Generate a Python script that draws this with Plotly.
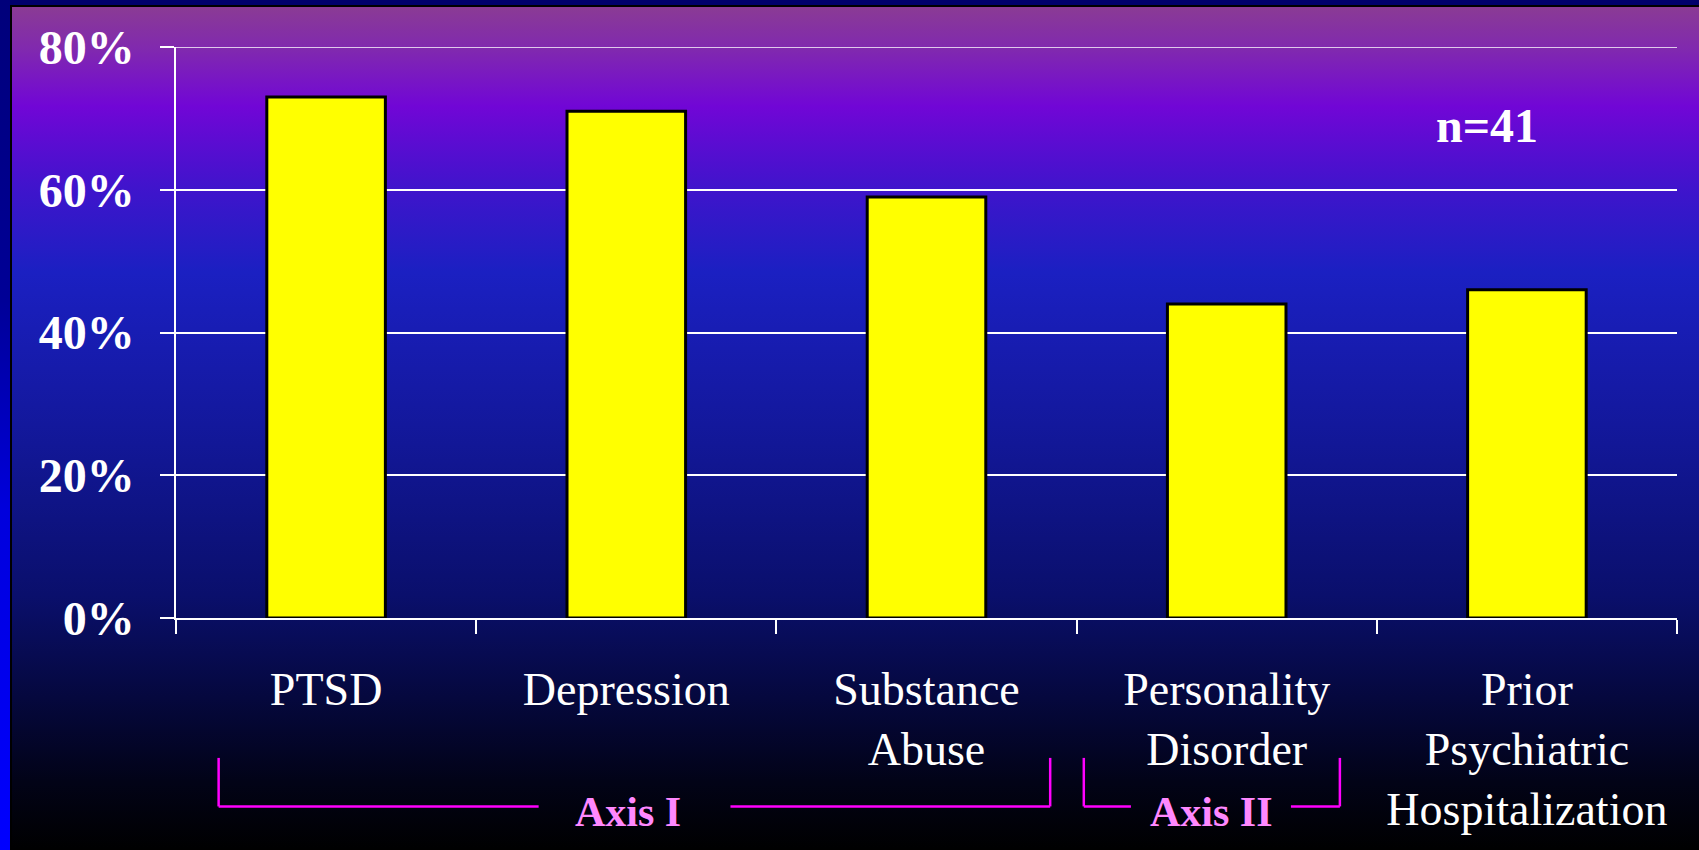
import base64
import plotly.graph_objects as go

# ---- data ----
categories = ["PTSD", "Depression", "Substance<br>Abuse",
              "Personality<br>Disorder", "Prior<br>Psychiatric<br>Hospitalization"]
percent_values = [73, 71, 59, 44, 46]
y_tick_values = [0, 20, 40, 60, 80]
y_tick_labels = ["0%", "20%", "40%", "60%", "80%"]
group_names = ["Axis I", "Axis II"]
sample_label = "n=41"

# ---- layout constants ----
W, H = 1699, 850
L, R, T, B = 176, 22, 47, 232
PW, PH = W - L - R, H - T - B
SERIF = "Times New Roman, Liberation Serif, Tinos, serif"

# bracket geometry (category-index units / paper units)
brackets = [
    dict(xl=-0.358, gl=0.708, gr=1.347, xr=2.412, xt=1.007),
    dict(xl=2.524, gl=2.681, gr=3.214, xr=3.377, xt=2.951),
]
br_top, br_bot, br_text_y = -0.245, -0.330, -0.339

# ---- background (gradient slide) as an svg image ----
svg = f'''<svg xmlns="http://www.w3.org/2000/svg" width="{W}" height="{H}" viewBox="0 0 {W} {H}" preserveAspectRatio="none">
<defs>
<linearGradient id="g" x1="0" y1="0" x2="0" y2="1">
<stop offset="0" stop-color="#8C3E90"/>
<stop offset="0.06" stop-color="#8028B0"/>
<stop offset="0.125" stop-color="#7106D6"/>
<stop offset="0.22" stop-color="#4014CC"/>
<stop offset="0.32" stop-color="#1B20C2"/>
<stop offset="0.5" stop-color="#13189C"/>
<stop offset="0.7" stop-color="#0A0F6C"/>
<stop offset="0.82" stop-color="#05083E"/>
<stop offset="0.92" stop-color="#020317"/>
<stop offset="1" stop-color="#000000"/>
</linearGradient>
<linearGradient id="s" x1="0" y1="0" x2="0" y2="1">
<stop offset="0" stop-color="#00007A"/>
<stop offset="0.35" stop-color="#000096"/>
<stop offset="0.6" stop-color="#0000DC"/>
<stop offset="1" stop-color="#0000FF"/>
</linearGradient>
</defs>
<rect x="0" y="0" width="{W}" height="{H}" fill="url(#g)"/>
<rect x="0" y="0" width="{W}" height="5" fill="#00006C"/>
<rect x="0" y="5" width="{W}" height="2" fill="#000000"/>
<rect x="0" y="0" width="10" height="{H}" fill="url(#s)"/>
<rect x="10" y="5" width="2" height="{H}" fill="#000000"/>
</svg>'''
bg_src = "data:image/svg+xml;base64," + base64.b64encode(svg.encode()).decode()

fig = go.Figure()
fig.add_trace(go.Bar(
    x=categories, y=percent_values, width=0.395,
    marker=dict(color="#FFFF00", line=dict(color="#000000", width=3)),
    hoverinfo="skip",
))

shapes = [
    # top gridline (plotly drops the gridline lying on the plot edge)
    dict(type="line", xref="paper", yref="y", x0=0, x1=1,
         y0=y_tick_values[-1], y1=y_tick_values[-1], layer="below",
         line=dict(color="#FFFFFF", width=1.5)),
]
for b in brackets:
    seg = dict(type="line", xref="x", yref="paper",
               line=dict(color="#FF00FF", width=2.5))
    shapes.append(dict(seg, x0=b["xl"], x1=b["xl"], y0=br_top, y1=br_bot))
    shapes.append(dict(seg, x0=b["xl"], x1=b["gl"], y0=br_bot, y1=br_bot))
    shapes.append(dict(seg, x0=b["gr"], x1=b["xr"], y0=br_bot, y1=br_bot))
    shapes.append(dict(seg, x0=b["xr"], x1=b["xr"], y0=br_top, y1=br_bot))

annotations = [
    dict(text=name, xref="x", yref="paper", x=b["xt"], y=br_text_y,
         showarrow=False, xanchor="center", yanchor="middle",
         font=dict(family=SERIF, size=42, color="#FF88FF", weight="bold"))
    for name, b in zip(group_names, brackets)
]
annotations.append(dict(
    text=sample_label, xref="paper", yref="paper", x=0.8736, y=0.863,
    showarrow=False, xanchor="center", yanchor="middle",
    font=dict(family=SERIF, size=48, color="#FFFFFF", weight="bold")))

fig.update_layout(
    width=W, height=H,
    margin=dict(l=L, r=R, t=T, b=B, pad=0),
    paper_bgcolor="rgba(0,0,0,0)", plot_bgcolor="rgba(0,0,0,0)",
    showlegend=False,
    images=[dict(source=bg_src, xref="paper", yref="paper",
                 x=-L / PW, y=1 + T / PH, sizex=W / PW, sizey=H / PH,
                 xanchor="left", yanchor="top", sizing="stretch", layer="below")],
    shapes=shapes,
    annotations=annotations,
    xaxis=dict(
        type="category", range=[-0.5, 4.5], automargin=False,
        showline=True, linecolor="#FFFFFF", linewidth=1.5,
        ticks="outside", tickson="boundaries", ticklen=14, tickwidth=1.5,
        tickcolor="#FFFFFF", showgrid=False, ticklabelstandoff=30,
        tickfont=dict(family=SERIF, size=46, color="#FFFFFF"),
    ),
    yaxis=dict(
        range=[0, 80], automargin=False,
        tickmode="array", tickvals=y_tick_values, ticktext=y_tick_labels,
        showline=True, linecolor="#FFFFFF", linewidth=1.5,
        ticks="outside", ticklen=14, tickwidth=1.5, tickcolor="#FFFFFF",
        showgrid=True, gridcolor="#FFFFFF", gridwidth=1.5, zeroline=False,
        ticklabelstandoff=16,
        tickfont=dict(family=SERIF, size=48, color="#FFFFFF", weight="bold"),
    ),
)

fig.write_html("out.html", config=dict(displayModeBar=False),
               post_script="document.body.style.margin='0';document.body.style.overflow='hidden';")
